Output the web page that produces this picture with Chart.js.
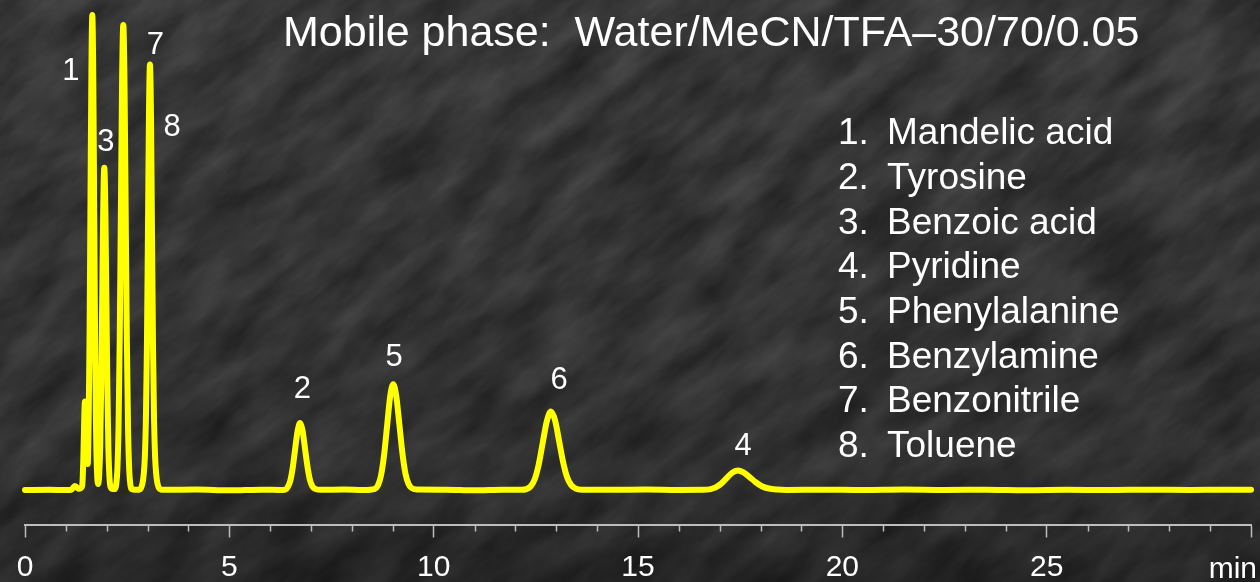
<!DOCTYPE html>
<html>
<head>
<meta charset="utf-8">
<title>Chromatogram – Water/MeCN/TFA 30/70/0.05</title>
<script src="https://cdn.jsdelivr.net/npm/chart.js@4.4.1/dist/chart.umd.min.js"></script>
<style>
  html, body { margin: 0; padding: 0; background: #2b2b2b; overflow: hidden; }
  #wrap { position: relative; width: 1260px; height: 582px; overflow: hidden; }
  #bg, #c { position: absolute; left: 0; top: 0; }
</style>
</head>
<body>
<div id="wrap">
  <svg id="bg" width="1260" height="582" xmlns="http://www.w3.org/2000/svg">
    <defs>
      <filter id="stone" filterUnits="userSpaceOnUse" x="-700" y="-700" width="2660" height="1980"
              color-interpolation-filters="sRGB">
        <feTurbulence type="fractalNoise" baseFrequency="0.012 0.032" numOctaves="5" seed="11"/>
        <feColorMatrix type="matrix"
          values="0.2 0 0 0 0.115
                  0.2 0 0 0 0.115
                  0.2 0 0 0 0.115
                  0 0 0 0 1"/>
      </filter>
      <linearGradient id="shade" x1="0" y1="0" x2="0" y2="1">
        <stop offset="0" stop-color="#000" stop-opacity="0"/>
        <stop offset="0.8" stop-color="#000" stop-opacity="0.12"/>
        <stop offset="1" stop-color="#000" stop-opacity="0.32"/>
      </linearGradient>
    </defs>
    <g transform="rotate(-38 630 291)">
      <rect x="-700" y="-700" width="2660" height="1980" filter="url(#stone)"/>
    </g>
    <rect x="0" y="0" width="1260" height="582" fill="url(#shade)"/>
  </svg>
  <!-- canvas runs a few pixels past the frame so the tick padding lands outside it -->
  <canvas id="c" width="1267" height="582"></canvas>
</div>
<script>
// Retention time (min) and detector response (arbitrary units, baseline = 0)
const retentionTimes = [
  0, 0.6, 1.0, 1.13, 1.18, 1.223, 1.27, 1.32, 1.37, 1.398, 1.412, 1.426, 1.44, 1.454,
  1.468, 1.482, 1.496, 1.51, 1.5345, 1.557, 1.58, 1.6025, 1.625, 1.647, 1.6695, 1.692,
  1.7145, 1.737, 1.7595, 1.79, 1.84, 1.865, 1.89, 1.915, 1.94, 1.965, 1.99, 2.015, 2.04,
  2.065, 2.09, 2.153, 2.202, 2.231, 2.26, 2.289, 2.318, 2.347, 2.376, 2.405, 2.434,
  2.463, 2.492, 2.521, 2.55, 2.579, 2.608, 2.70, 2.798, 2.838, 2.878, 2.908, 2.933,
  2.958, 2.983, 3.008, 3.033, 3.058, 3.083, 3.108, 3.133, 3.158, 3.183, 3.208, 3.238,
  3.278, 3.318, 3.40, 4.2, 5.0, 5.8, 6.3, 6.37, 6.43, 6.49, 6.55, 6.61, 6.67, 6.73,
  6.79, 6.85, 6.91, 6.97, 7.03, 7.10, 7.25, 7.8, 8.3, 8.56, 8.635, 8.71, 8.785, 8.86,
  8.935, 9.01, 9.085, 9.16, 9.235, 9.31, 9.385, 9.46, 9.58, 10.3, 11.0, 11.7, 12.15,
  12.27, 12.37, 12.47, 12.57, 12.67, 12.77, 12.87, 12.97, 13.07, 13.17, 13.27, 13.37,
  13.47, 13.62, 14.3, 15.2, 16.0, 16.6, 16.78, 16.9, 17.03, 17.17, 17.3, 17.44, 17.58,
  17.73, 17.88, 18.03, 18.2, 18.4, 18.65, 19.5, 20.5, 21.5, 22.5, 23.5, 24.5, 25.5,
  26.5, 27.5, 28.5, 29.4, 30
];
const detectorSignal = [
  0, 0.3, 0, 0.3, 2.5, 4, 2.5, 1.2, 2, 4, 12, 29, 54, 78,
  88.5, 78, 54, 33.5, 26, 65, 155, 289, 419, 475.5, 419, 289,
  155, 64, 21, 6, 43.6, 105, 196, 285, 322.5, 285, 196, 105, 43.6,
  14.2, 3.6, 1, 1, 5.2, 20.5, 63, 151, 282, 411, 465.5, 411,
  282, 151, 63, 20.5, 5.2, 1, 0.4, 0.4, 2, 7.2, 17, 33.6,
  69.5, 142, 255, 374, 426, 374, 255, 142, 69.5, 33.6, 17, 7.2,
  2, 0.4, 0.2, 0.5, -0.2, 0.4, 0, 0.3, 3, 9, 22, 41, 59, 67,
  60, 42, 24, 10.5, 3.8, 1.2, 0.2, 0.5, 0, 1.2, 4.6, 14.3, 34.5, 64,
  93.5, 106, 94, 66, 37, 16.5, 6, 2, 0.5, 0.4, -0.3, 0.3, 0.2,
  0.9, 3.5, 10.6, 25.5, 47.6, 69.2, 78.5, 69.8, 49, 27.5, 12.2, 4.6,
  1.6, 0.4, 0.2, 0.5, 0.1, 0.2, 0.9, 2.6, 6.2, 11.9, 17.2, 19.5, 17.6,
  13, 7.8, 3.8, 1.5, 0.5, 0.1, 0.4, 0, 0.5, 0.1, 0.4, -0.1, 0.3,
  0, 0.4, 0.1, 0.3, 0.2
];

// Peak number labels, placed in data coordinates
const peakNumbers      = ['1', '3', '7', '8', '2', '5', '6', '4'];
const peakLabelTimes   = [1.12, 1.98, 3.19, 3.60, 6.79, 9.03, 13.07, 17.57];
const peakLabelHeights = [419, 347.5, 445.5, 362.5, 100.5, 132.5, 109.5, 44];

// Compound key
const compounds = [
  'Mandelic acid', 'Tyrosine', 'Benzoic acid', 'Pyridine',
  'Phenylalanine', 'Benzylamine', 'Benzonitrile', 'Toluene'
];

const titleText = 'Mobile phase:  Water/MeCN/TFA\u201330/70/0.05';
const axisUnit = 'min';
const xMin = 0, xMax = 30, majorStep = 5, minorStep = 1;

const FONT = '"Liberation Sans", Arial, Helvetica, sans-serif';

const points = retentionTimes.map((t, i) => ({ x: t, y: detectorSignal[i] }));

const overlay = {
  id: 'overlay',
  afterDraw(chart) {
    const { ctx, chartArea, scales } = chart;
    const xs = scales.x, ys = scales.y;
    ctx.save();

    // minor ticks along the time axis
    ctx.strokeStyle = '#bdbdbd';
    ctx.lineWidth = 1.5;
    for (let t = xMin; t <= xMax; t += minorStep) {
      if (t % majorStep === 0) continue;
      const px = Math.round(xs.getPixelForValue(t)) + 0.5;
      ctx.beginPath();
      ctx.moveTo(px, chartArea.bottom);
      ctx.lineTo(px, chartArea.bottom + 7);
      ctx.stroke();
    }

    ctx.fillStyle = '#ffffff';

    // unit at the end of the axis
    ctx.font = '30px ' + FONT;
    ctx.textAlign = 'right';
    ctx.textBaseline = 'alphabetic';
    ctx.fillText(axisUnit, 1257, chartArea.bottom + 53);

    // peak numbers
    ctx.textAlign = 'center';
    ctx.textBaseline = 'middle';
    ctx.font = '31px ' + FONT;
    peakNumbers.forEach((n, i) => {
      ctx.fillText(n, xs.getPixelForValue(peakLabelTimes[i]), ys.getPixelForValue(peakLabelHeights[i]));
    });

    // title
    ctx.font = '43px ' + FONT;
    ctx.textAlign = 'left';
    ctx.fillText(titleText, 283, 34);

    // compound key
    ctx.font = '37px ' + FONT;
    compounds.forEach((name, i) => {
      const y = 134 + i * 44.7;
      ctx.fillText((i + 1) + '.', 838, y);
      ctx.fillText(name, 887, y);
    });

    ctx.restore();
  }
};

new Chart(document.getElementById('c'), {
  type: 'line',
  data: {
    datasets: [{
      data: points,
      borderColor: '#ffff00',
      borderWidth: 6,
      borderCapStyle: 'round',
      borderJoinStyle: 'round',
      pointRadius: 0,
      fill: false,
      clip: false,
      cubicInterpolationMode: 'monotone'
    }]
  },
  options: {
    responsive: false,
    animation: false,
    devicePixelRatio: 1,
    layout: { autoPadding: false, padding: { left: 25, right: 2, top: 0, bottom: -16 } },
    plugins: { legend: { display: false }, tooltip: { enabled: false }, title: { display: false } },
    scales: {
      x: {
        type: 'linear',
        min: xMin,
        max: xMax,
        border: { display: true, color: '#bdbdbd', width: 2 },
        grid: { drawOnChartArea: false, drawTicks: true, tickLength: 13, tickColor: '#bdbdbd', tickWidth: 1.5 },
        ticks: {
          stepSize: majorStep,
          autoSkip: false,
          maxRotation: 0,
          color: '#ffffff',
          padding: 16,
          font: { family: FONT, size: 30, lineHeight: 0.95 },
          callback: (v) => (v === xMax ? '' : String(v))
        }
      },
      y: { display: false, min: -34.5, max: 490.5 }
    }
  },
  plugins: [overlay]
});
</script>
</body>
</html>
